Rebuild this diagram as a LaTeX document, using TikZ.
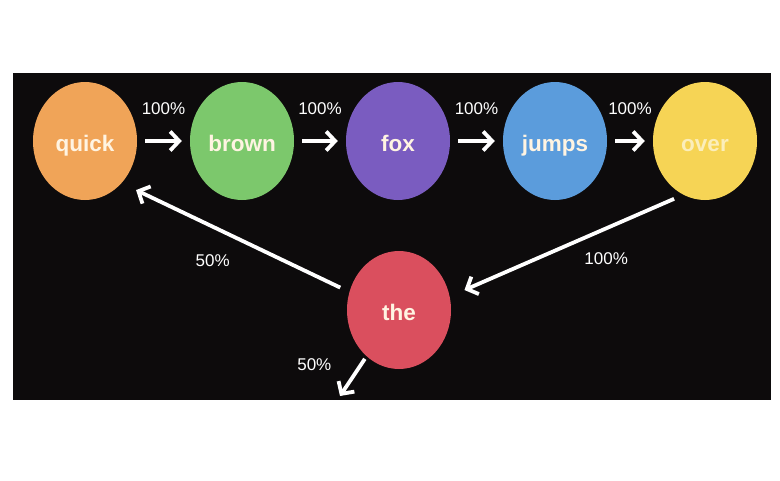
\documentclass[tikz,border=0pt]{standalone}
\usepackage{fontspec}
\newfontfamily\wordfont{Liberation Sans}
\usetikzlibrary{shapes.geometric, arrows.meta, positioning}
\definecolor{bg}{HTML}{0D0B0C}
\definecolor{quickc}{HTML}{F0A458}
\definecolor{brownc}{HTML}{7CC86C}
\definecolor{foxc}{HTML}{7A5CC0}
\definecolor{jumpsc}{HTML}{5B9CDC}
\definecolor{overc}{HTML}{F6D455}
\definecolor{thec}{HTML}{DA4F5E}
\definecolor{cream}{HTML}{FFF4E2}

\begin{document}
\begin{tikzpicture}[x=1pt, y=-1pt,
    word/.style={ellipse, minimum width=104pt, minimum height=118pt, inner sep=0pt,
        text height=21pt, text depth=0pt,
        text=cream, font=\wordfont\fontsize{22.5}{24}\selectfont\bfseries},
    flow/.style={draw=white, line width=3.8pt, -{Straight Barb[length=9pt, width=19pt]}},
    pct/.style={text=white, inner sep=0pt, font=\wordfont\fontsize{17}{19}\selectfont}]
    \useasboundingbox (0,0) rectangle (780,480);
    \fill[white] (0,0) rectangle (780,480);
    \fill[bg] (13,73) rectangle (771,400);
    % chain
    \node[word, fill=quickc] (quick) at (85,141) {quick};
    \node[word, fill=brownc] (brown) at (242,141) {brown};
    \node[word, fill=foxc] (fox) at (398,141) {fox};
    \node[word, fill=jumpsc] (jumps) at (555,141) {jumps};
    \node[word, fill=overc, text=overc!40!white] (over) at (705,141) {over};
    \node[word, fill=thec] (the) at (399,310) {the};
    \coordinate (out) at (340,396);
    \draw[flow, shorten <=8pt, shorten >=8pt] (quick) -- node[pct, above=24pt]{100\%} (brown);
    \draw[flow, shorten <=8pt, shorten >=8pt] (brown) -- node[pct, above=24pt]{100\%} (fox);
    \draw[flow, shorten <=8pt, shorten >=8pt] (fox) -- node[pct, above=24pt]{100\%} (jumps);
    \draw[flow, shorten <=8pt, shorten >=8pt] (jumps) -- node[pct, above=24pt]{100\%} (over);
    % back to the start
    \draw[flow, shorten <=10pt, shorten >=16pt] (over.248) -- node[pct, pos=0.33, below=22pt]{100\%} (the.15);
    \draw[flow, shorten <=10pt, shorten >=16pt] (the.160) -- node[pct, pos=0.6, below=26pt]{50\%} (quick.311);
    \draw[flow, shorten <=3pt] (the.235) -- node[pct, pos=0.2, left=28pt]{50\%} (out);
\end{tikzpicture}
\end{document}
